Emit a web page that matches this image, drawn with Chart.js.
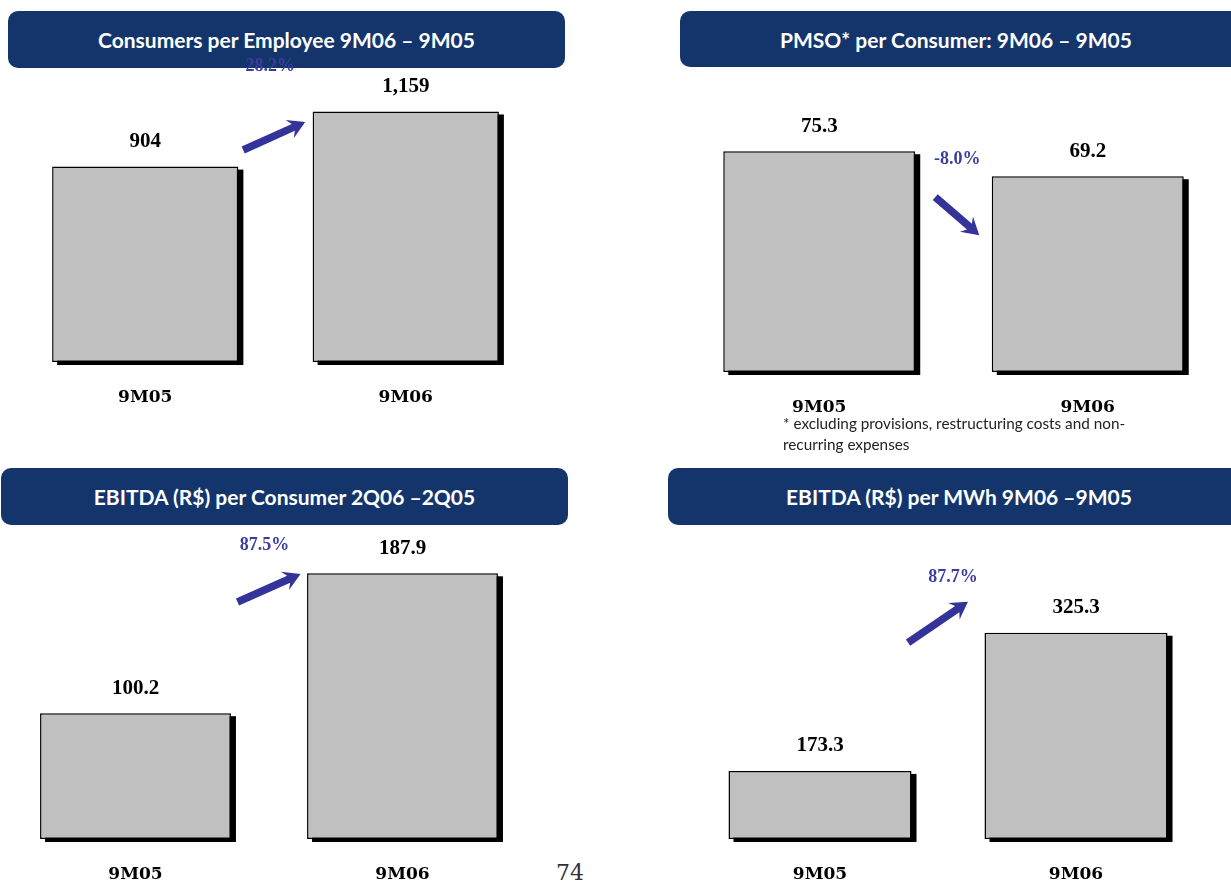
<!DOCTYPE html>
<html>
<head>
<meta charset="utf-8">
<script src="https://cdn.jsdelivr.net/npm/chart.js@4.4.0/dist/chart.umd.min.js"></script>
<style>
  body { margin: 0; width: 1231px; height: 881px; overflow: hidden; background: #fff; position: relative; font-family: Lato, "Open Sans", sans-serif; }
  canvas { position: absolute; left: 0; top: 0; z-index: 2; }
  .hdr { position: absolute; background: #13356c; color: #fff; border-radius: 10px; font-weight: bold; font-size: 21px;
         display: flex; align-items: center; justify-content: center; z-index: 1; }
  .note { position: absolute; left: 783px; top: 413px; font-size: 15.3px; line-height: 21px; color: #222; z-index: 3; }
  .page { position: absolute; left: 556px; top: 860px; font-family: "DejaVu Serif", serif; font-size: 22px; color: #333; }
</style>
</head>
<body>
<div class="hdr" style="left:8px;top:11px;width:557px;height:57px">Consumers per Employee 9M06 – 9M05</div>
<div class="hdr" style="left:680px;top:11px;width:570px;height:56px;justify-content:flex-start;padding-left:100px;box-sizing:border-box">PMSO* per Consumer: 9M06 – 9M05</div>
<div class="hdr" style="left:1px;top:468px;width:567px;height:57px">EBITDA (R$) per Consumer 2Q06 –2Q05</div>
<div class="hdr" style="left:668px;top:468px;width:590px;height:57px;justify-content:flex-start;padding-left:118px;box-sizing:border-box">EBITDA (R$) per MWh 9M06 –9M05</div>
<div class="note">* excluding provisions, restructuring costs and non-<br>recurring expenses</div>
<div class="page">74</div>

<canvas id="c1" width="1231" height="881"></canvas>
<canvas id="c2" width="1231" height="881"></canvas>
<canvas id="c3" width="1231" height="881"></canvas>
<canvas id="c4" width="1231" height="881"></canvas>

<script>
// categories and values
var categories = ['9M05', '9M06'];
var consumersPerEmployee = [904, 1159];
var pmsoPerConsumer = [75.3, 69.2];
var ebitdaPerConsumer = [100.2, 187.9];
var ebitdaPerMwh = [173.3, 325.3];
var changeLabels = ['28.2%', '-8.0%', '87.5%', '87.7%'];

// axis ranges (the original bars do not all start at zero)
var yMins = [0, 21.4, 21.3, 98.4];
var yMaxs = [1300, 90, 200, 380];

var W = 1231, H = 881, AXIS_H = 40;

// chart area edges [left, right, top, bottom], arrow ends and % label in [category index, value]
var panels = [
  { id: 'c1', values: consumersPerEmployee, dec: 0, area: [15, 536, 81, 362],
    arrow: [[0.376, 981], [0.614, 1110]], change: [0.48, 1369] },
  { id: 'c2', values: pmsoPerConsumer, dec: 1, area: [685, 1222, 91, 372],
    arrow: [[0.432, 64.1], [0.596, 54.8]], change: [0.514, 73.2] },
  { id: 'c3', values: ebitdaPerConsumer, dec: 1, area: [2, 536, 554, 839],
    arrow: [[0.382, 169.9], [0.618, 187.5]], change: [0.483, 205.6] },
  { id: 'c4', values: ebitdaPerMwh, dec: 1, area: [692, 1204, 583, 839],
    arrow: [[0.344, 314.3], [0.578, 359.4]], change: [0.52, 385.8] }
];

function fmt(v, dec) {
  return v.toLocaleString('en-US', { minimumFractionDigits: dec, maximumFractionDigits: dec });
}

function drawArrow(ctx, x1, y1, x2, y2) {
  var ang = Math.atan2(y2 - y1, x2 - x1);
  var len = Math.sqrt((x2 - x1) * (x2 - x1) + (y2 - y1) * (y2 - y1));
  ctx.save();
  ctx.translate(x1, y1);
  ctx.rotate(ang);
  ctx.fillStyle = '#33339a';
  ctx.beginPath();
  ctx.moveTo(0, -3.8);
  ctx.lineTo(len - 13, -3.8);
  ctx.lineTo(len - 17, -10);
  ctx.lineTo(len, 0);
  ctx.lineTo(len - 17, 10);
  ctx.lineTo(len - 13, 3.8);
  ctx.lineTo(0, 3.8);
  ctx.closePath();
  ctx.fill();
  ctx.restore();
}

var shadowPlugin = {
  id: 'barShadow',
  beforeDatasetsDraw: function(chart) {
    var ctx = chart.ctx;
    ctx.save();
    ctx.fillStyle = '#000';
    chart.getDatasetMeta(0).data.forEach(function(bar) {
      var p = bar.getProps(['x', 'y', 'base', 'width'], true);
      ctx.fillRect(p.x - p.width / 2 + 5, p.y + 3, p.width, p.base - p.y);
    });
    ctx.restore();
  }
};

var labelPlugin = {
  id: 'slideLabels',
  afterDatasetsDraw: function(chart, args, opts) {
    var ctx = chart.ctx;
    var xs = chart.scales.x, ys = chart.scales.y;
    ctx.save();
    ctx.textAlign = 'center';
    ctx.textBaseline = 'middle';
    ctx.fillStyle = '#000';
    ctx.font = 'bold 21px "Liberation Serif", serif';
    chart.getDatasetMeta(0).data.forEach(function(bar, i) {
      ctx.fillText(fmt(opts.values[i], opts.dec), bar.x, bar.y - 25);
    });
    var a = opts.arrow;
    drawArrow(ctx, xs.getPixelForValue(a[0][0]), ys.getPixelForValue(a[0][1]),
                   xs.getPixelForValue(a[1][0]), ys.getPixelForValue(a[1][1]));
    ctx.fillStyle = '#3c3ca0';
    ctx.font = 'bold 18px "Liberation Serif", serif';
    ctx.fillText(opts.changeText, xs.getPixelForValue(opts.change[0]), ys.getPixelForValue(opts.change[1]));
    ctx.restore();
  }
};

panels.forEach(function(p, k) {
  new Chart(document.getElementById(p.id), {
    type: 'bar',
    data: {
      labels: categories,
      datasets: [{
        data: p.values,
        base: yMins[k],
        backgroundColor: '#c0c0c0',
        borderColor: '#000',
        borderWidth: 1.5,
        borderSkipped: false,
        barPercentage: 0.715,
        categoryPercentage: 1,
        clip: false
      }]
    },
    options: {
      responsive: false,
      animation: false,
      events: [],
      layout: { padding: { left: p.area[0], right: W - p.area[1], top: p.area[2], bottom: H - p.area[3] - AXIS_H } },
      plugins: {
        legend: { display: false },
        tooltip: { enabled: false },
        slideLabels: { values: p.values, dec: p.dec, arrow: p.arrow, change: p.change, changeText: changeLabels[k] }
      },
      scales: {
        x: {
          grid: { display: false, drawTicks: false },
          border: { display: false },
          ticks: { color: '#000', padding: 25, font: { family: '"DejaVu Serif", serif', weight: 'bold', size: 17 } },
          afterFit: function(scale) { scale.height = AXIS_H; }
        },
        y: { display: false, min: yMins[k], max: yMaxs[k] }
      }
    },
    plugins: [shadowPlugin, labelPlugin]
  });
});
</script>
</body>
</html>
